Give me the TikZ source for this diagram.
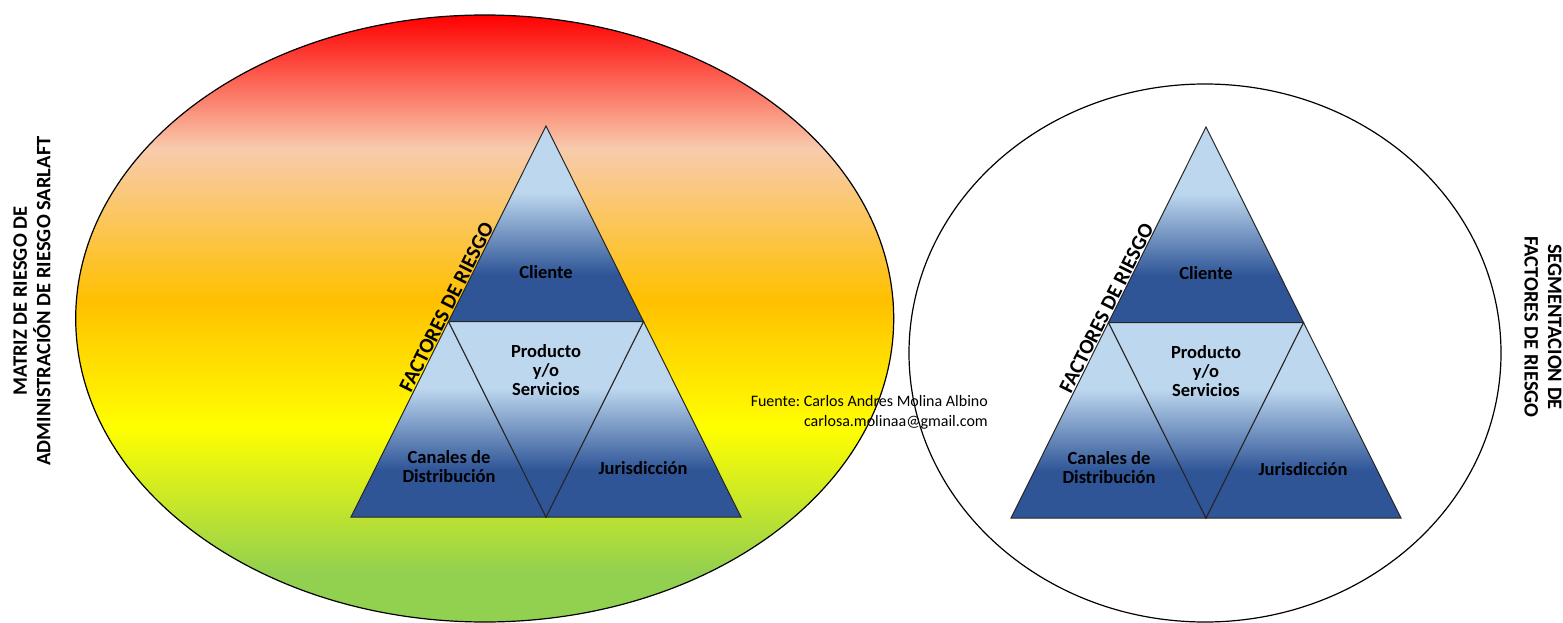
\documentclass[tikz,border=0pt]{standalone}
\usepackage{fontspec}
\setmainfont{Carlito}
\usepackage{xcolor}
\frenchspacing

\definecolor{trclaro}{HTML}{BDD7EE}
\definecolor{troscuro}{HTML}{2F5597}
\definecolor{rojo}{HTML}{FF0000}
\definecolor{durazno}{HTML}{F8CBAD}
\definecolor{naranja}{HTML}{FFC000}
\definecolor{amarillo}{HTML}{FFFF00}
\definecolor{verde}{HTML}{92D050}

\pgfdeclareverticalshading{semaforo}{100bp}{color(0bp)=(verde); color(29bp)=(verde); color(41bp)=(amarillo); color(51.5bp)=(naranja); color(64bp)=(durazno); color(75bp)=(rojo); color(100bp)=(rojo)}
\pgfdeclareverticalshading{azul}{100bp}{color(0bp)=(troscuro); color(37bp)=(troscuro); color(58bp)=(trclaro); color(100bp)=(trclaro)}

\tikzset{
  tri/.style={draw=black!85, line width=1pt, shading=azul},
  etq/.style={font=\bfseries\fontsize{18.5}{19}\selectfont, align=center, inner sep=0pt},
  lado/.style={font=\bfseries\fontsize{21}{23}\selectfont, rotate=63.4, anchor=south, inner sep=1pt},
  titulo/.style={font=\bfseries\fontsize{20.5}{23.5}\selectfont, align=center, inner sep=0pt},
  fuente/.style={font=\fontsize{16}{20}\selectfont, align=right, inner sep=0pt}
}

\begin{document}
\begin{tikzpicture}[x=1pt,y=-1pt]
  \useasboundingbox (0,0) rectangle (1563,623);

  % los dos circulos
  \shadedraw[shading=semaforo, line width=1.2pt] (484.7,318.5) ellipse [x radius=409, y radius=303.5];
  \draw[line width=1.2pt] (1205,353) ellipse [x radius=296, y radius=269];

  % las dos piramides
  \foreach \px/\py/\nm in {546/126/L, 1206/127/R}{
    \begin{scope}[shift={(\px,\py)}, name prefix=\nm-]
      \coordinate (cima) at (0,0);
      \coordinate (bi) at (-195,391);
      \coordinate (bd) at (195,391);
      \coordinate (mi) at (-97.5,195.5);
      \coordinate (md) at (97.5,195.5);
      \coordinate (mb) at (0,391);
      \shadedraw[tri] (cima) -- (md) -- (mi) -- cycle;
      \shadedraw[tri] (mi) -- (mb) -- (bi) -- cycle;
      \shadedraw[tri] (md) -- (bd) -- (mb) -- cycle;
      \shadedraw[tri] (mi) -- (md) -- (mb) -- cycle;
      \node[etq] (cliente) at (0,146) {Cliente};
      \node[etq] (producto) at (0,244) {Producto\\y/o\\Servicios};
      \node[etq] (canales) at (-97,341) {Canales de\\Distribución};
      \node[etq] (juris) at (97,342) {Jurisdicción};
      \node[lado] (factores) at (-92.3,185) {FACTORES DE RIESGO};
    \end{scope}
  }

  \node[fuente, anchor=east] (fuente) at (988,412) {Fuente: Carlos Andres Molina Albino\\carlosa.molinaa@gmail.com};

  \node[titulo, rotate=90] (matriz) at (32,301) {MATRIZ DE RIESGO DE\\ADMINISTRACIÓN DE RIESGO SARLAFT};
  \node[titulo, rotate=-90] (segmenta) at (1543,327) {SEGMENTACION DE\\FACTORES DE RIESGO};

\end{tikzpicture}
\end{document}
